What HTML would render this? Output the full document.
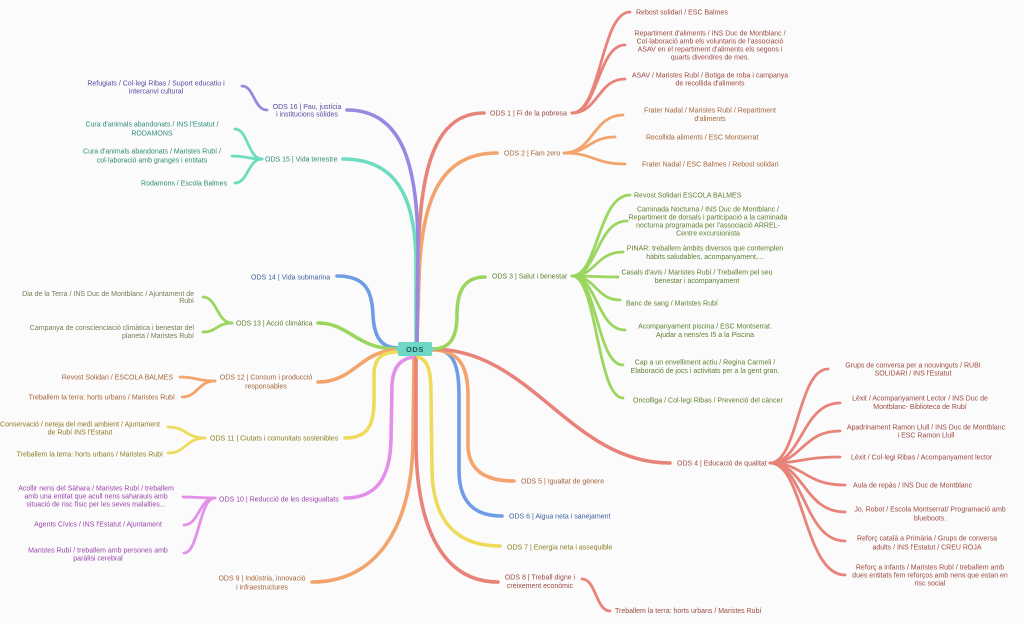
<!DOCTYPE html>
<html><head><meta charset="utf-8">
<style>
html,body{margin:0;padding:0;background:#fbfbfb;width:1024px;height:624px;overflow:hidden}
svg{display:block}
text{font-family:"Liberation Sans",Arial,sans-serif;font-size:7px}
.m{fill:none;stroke-width:3.6;stroke-linecap:round}
.l{fill:none;stroke-width:2.8;stroke-linecap:round}
</style></head>
<body>
<svg width="1024" height="624" viewBox="0 0 1024 624" xmlns="http://www.w3.org/2000/svg">
<rect width="1024" height="624" fill="#fbfbfb"/>

<!-- main branches -->
<g class="m">
<path stroke="#6ddcc0" d="M343 159 C395 159 415 195 416 260 L416 342"/>
<path stroke="#e8837a" d="M417 342 L418 270 C419 180 430 113 484 113"/>
<path stroke="#f2a46c" d="M417 342 L419 280 C421 200 440 153 497 153"/>
<path stroke="#9888e2" d="M347 110 C400 110 418 160 418 250 L417 342"/>
<path stroke="#6e9de6" d="M337 276 C365 276 372 290 373 315 C374 338 382 348 398 348"/>
<path stroke="#9bd65e" d="M318 323 C350 323 355 349 398 349"/>
<path stroke="#f2a46c" d="M318 382 C355 382 360 350 398 350"/>
<path stroke="#eedb5c" d="M345 438 C368 438 374 425 374 400 L374 375 C374 358 382 352 398 352"/>
<path stroke="#f2a46c" d="M312 582 C375 582 412 530 413 440 L414 357"/>
<path stroke="#e8837a" d="M416 357 L416 440 C416 540 450 582 498 582"/>
<path stroke="#e390ea" d="M345 498 C375 498 390 480 391 440 L392 385 C393 365 402 359 413 357"/>
<path stroke="#eedb5c" d="M418 357 C428 360 431 370 431 395 L432 470 C433 525 460 546 500 546"/>
<path stroke="#6e9de6" d="M432 349 C452 349 459 362 459 395 L459 470 C459 503 475 516 502 516"/>
<path stroke="#f2a46c" d="M432 350 C458 350 468 365 468 395 L468 445 C468 470 485 481 514 481"/>
<path stroke="#e8837a" d="M432 349 C532 349 570 463 670 463"/>
<path stroke="#9bd65e" d="M432 349 C450 349 457 338 457 315 C457 290 465 277 485 277"/>
</g>

<!-- leaf connectors -->
<g class="l">
<g stroke="#e8837a">
<path d="M572 113 C601 113 601 12 630 12"/>
<path d="M572 113 C598 113 598 45 625 45"/>
<path d="M572 113 C598 113 598 79 625 79"/>
</g>
<g stroke="#f2a46c">
<path d="M564 153 C593 153 593 115 623 115"/>
<path d="M564 153 C589 153 589 137 615 137"/>
<path d="M564 153 C594 153 594 164 625 164"/>
</g>
<g stroke="#9bd65e">
<path d="M572 276 C598 276 598 195 630 195"/>
<path d="M572 276 C597 276 597 221 627 221"/>
<path d="M572 276 C596 276 596 252 623 252"/>
<path d="M572 276 C595 276 595 277 618 277"/>
<path d="M572 276 C596 276 596 300 620 300"/>
<path d="M572 276 C597 276 597 330 625 330"/>
<path d="M572 276 C597 276 597 365 623 365"/>
<path d="M572 276 C597 276 597 398 623 398"/>
</g>
<g stroke="#e8837a">
<path d="M770 463 C798 463 798 369 828 369"/>
<path d="M770 463 C802 463 802 403 840 403"/>
<path d="M770 463 C802 463 802 431 840 431"/>
<path d="M770 463 C802 463 802 457 840 457"/>
<path d="M770 463 C804 463 804 485 845 485"/>
<path d="M770 463 C804 463 804 512 845 512"/>
<path d="M770 463 C804 463 804 541 845 541"/>
<path d="M770 463 C804 463 804 575 845 575"/>
<path d="M582 579 C596 579 596 611 610 611"/>
</g>
<path stroke="#9888e2" d="M267 110 C254 110 254 86 242 86"/>
<g stroke="#6ddcc0">
<path d="M262 159 C248 159 248 129 235 129"/>
<path d="M262 159 C247 159 247 156 232 156"/>
<path d="M262 159 C248 159 248 183 235 183"/>
</g>
<g stroke="#9bd65e">
<path d="M232 323 C217 323 217 297 203 297"/>
<path d="M232 323 C217 323 217 332 203 332"/>
</g>
<g stroke="#f2a46c">
<path d="M215 381 C197 381 197 377 180 377"/>
<path d="M215 381 C198 381 198 397 182 397"/>
</g>
<g stroke="#eedb5c">
<path d="M205 438 C186 438 186 427 168 427"/>
<path d="M205 438 C186 438 186 453 168 453"/>
</g>
<g stroke="#e390ea">
<path d="M215 498 C199 498 199 497 183 497"/>
<path d="M215 498 C199 498 199 525 184 525"/>
<path d="M215 498 C199 498 199 553 184 553"/>
</g>
</g>

<!-- center node -->
<rect x="398" y="342" width="34" height="14" rx="1.5" fill="#6fd8c5"/>
<polygon points="398,346.5 395,349 398,351.5" fill="#6fd8c5"/>
<polygon points="432,346.5 435,349 432,351.5" fill="#6fd8c5"/>
<text x="415" y="351.8" text-anchor="middle" style="font-size:7.5px;font-weight:bold;letter-spacing:0.6px" fill="#1d5c52">ODS</text>

<!-- ODS 1 -->
<g fill="#9c4a42">
<text x="490" y="115.5">ODS 1 | Fi de la pobresa</text>
<text x="636" y="14.5">Rebost solidari / ESC Balmes</text>
<g text-anchor="middle">
<text x="710" y="35.5">Repartiment d'aliments / INS Duc de Montblanc /</text>
<text x="710" y="43.5">Col·laboració amb els voluntaris de l'associació</text>
<text x="710" y="51.5">ASAV en el repartiment d'aliments els segons i</text>
<text x="710" y="59.5">quarts divendres de mes.</text>
<text x="710" y="77.5">ASAV / Maristes Rubí / Botiga de roba i campanya</text>
<text x="710" y="85.5">de recollida d'aliments</text>
</g>
</g>

<!-- ODS 2 -->
<g fill="#a3643a">
<text x="504" y="155.5">ODS 2 | Fam zero</text>
<g text-anchor="middle">
<text x="710" y="112.5">Frater Nadal / Maristes Rubí / Repartiment</text>
<text x="710" y="121">d'aliments</text>
</g>
<text x="646" y="139.5">Recollida aliments / ESC Montserrat</text>
<text x="642" y="166.5">Frater Nadal / ESC Balmes / Rebost solidari</text>
</g>

<!-- ODS 3 -->
<g fill="#5f7f2f">
<text x="492" y="278.5">ODS 3 | Salut i benestar</text>
<text x="634" y="197.5">Revost Solidari ESCOLA BALMES</text>
<g text-anchor="middle">
<text x="708" y="211.5">Caminada Nocturna / INS Duc de Montblanc /</text>
<text x="708" y="219.5">Repartiment de dorsals i participació a la caminada</text>
<text x="708" y="227.5">nocturna programada per l'associació ARREL-</text>
<text x="708" y="235.5">Centre excursionista</text>
<text x="705" y="250.5">PINAR: treballem àmbits diversos que contemplen</text>
<text x="705" y="258.8">hàbits saludables, acompanyament,...</text>
<text x="697" y="274.5">Casals d'avis / Maristes Rubí / Treballem pel seu</text>
<text x="697" y="283">benestar i acompanyament</text>
<text x="705" y="328.5">Acompanyament piscina / ESC Montserrat.</text>
<text x="705" y="337">Ajudar a nens/es I5 a la Piscina</text>
<text x="705" y="364.5">Cap a un envelliment actiu / Regina Carmeli /</text>
<text x="705" y="373">Elaboració de jocs i activitats per a la gent gran.</text>
</g>
<text x="626" y="305.5">Banc de sang / Maristes Rubí</text>
<text x="633" y="402.5">Oncolliga / Col·legi Ribas / Prevenció del càncer</text>
</g>

<!-- ODS 4 -->
<g fill="#9c4a42">
<text x="677" y="465.5">ODS 4 | Educació de qualitat</text>
<g text-anchor="middle">
<text x="913" y="367.5">Grups de conversa per a nouvinguts / RUBI</text>
<text x="913" y="375.5">SOLIDARI / INS l'Estatut</text>
<text x="920" y="400.5">Lèxit / Acompanyament Lector / INS Duc de</text>
<text x="920" y="409">Montblanc- Biblioteca de Rubí</text>
<text x="926" y="429.5">Apadrinament Ramon Llull / INS Duc de Montblanc</text>
<text x="926" y="437.5">i ESC Ramon Llull</text>
<text x="930" y="511.5">Jo, Robot / Escola Montserrat/ Programació amb</text>
<text x="930" y="520.5">blueboots.</text>
<text x="927" y="540.5">Reforç català a Primària / Grups de conversa</text>
<text x="927" y="549.5">adults / INS l'Estatut / CREU ROJA</text>
<text x="930" y="569.5">Reforç a infants / Maristes Rubí / treballem amb</text>
<text x="930" y="577.5">dues entitats fem reforços amb nens que estan en</text>
<text x="930" y="585.5">risc social</text>
</g>
<text x="851" y="459.5">Lèxit / Col·legi Ribas / Acompanyament lector</text>
<text x="853" y="487.5">Aula de repàs / INS Duc de Montblanc</text>
</g>

<!-- ODS 5-8 -->
<text x="521" y="483.5" fill="#a3643a">ODS 5 | Igualtat de gènere</text>
<text x="509" y="518.5" fill="#3e5f9e">ODS 6 | Aigua neta i sanejament</text>
<text x="507" y="549.5" fill="#8c7c22">ODS 7 | Energia neta i assequible</text>
<g fill="#9c4a42">
<g text-anchor="middle">
<text x="540" y="579.5">ODS 8 | Treball digne i</text>
<text x="540" y="588">creixement econòmic</text>
</g>
<text x="615" y="613">Treballem la terra: horts urbans / Maristes Rubí</text>
</g>

<!-- ODS 9 -->
<g fill="#a3643a" text-anchor="middle">
<text x="262" y="580.5">ODS 9 | Indústria, innovació</text>
<text x="262" y="589.5">i infraestructures</text>
</g>

<!-- ODS 10 -->
<g fill="#9a44aa">
<text x="219" y="501.5">ODS 10 | Reducció de les desigualtats</text>
<g text-anchor="middle">
<text x="96" y="490.5">Acollir nens del Sàhara / Maristes Rubí / treballem</text>
<text x="96" y="498.5">amb una entitat que acull nens saharauis amb</text>
<text x="96" y="506.5">situació de risc físic per les seves malalties...</text>
<text x="98" y="526.5">Agents Cívics / INS l'Estatut / Ajuntament</text>
<text x="98" y="552.5">Maristes Rubí / treballem amb persones amb</text>
<text x="98" y="560.5">paràlisi cerebral</text>
</g>
</g>

<!-- ODS 11 -->
<g fill="#8c7c22">
<text x="210" y="440.5">ODS 11 | Ciutats i comunitats sostenibles</text>
<g text-anchor="middle">
<text x="80" y="426.5">Conservació / neteja del medi ambient / Ajuntament</text>
<text x="80" y="434.5">de Rubí INS l'Estatut</text>
</g>
<text x="163" y="456.5" text-anchor="end">Treballem la terra: horts urbans / Maristes Rubí</text>
</g>

<!-- ODS 12 -->
<g fill="#a3643a">
<g text-anchor="middle">
<text x="266" y="379.5">ODS 12 | Consum i producció</text>
<text x="266" y="388.5">responsables</text>
</g>
<g text-anchor="end">
<text x="173" y="379.5">Revost Solidari / ESCOLA BALMES</text>
<text x="175" y="399.5">Treballem la terra: horts urbans / Maristes Rubí</text>
</g>
</g>

<!-- ODS 13 -->
<g fill="#5f7f2f">
<text x="236" y="325.5">ODS 13 | Acció climàtica</text>
<g text-anchor="end" style="font-size:5.8px" fill="#6f7f55">
<text x="194" y="296">Dia de la Terra / INS Duc de Montblanc / Ajuntament de</text>
<text x="194" y="303">Rubí</text>
<text x="194" y="330">Campanya de conscienciació climàtica i benestar del</text>
<text x="194" y="338">planeta / Maristes Rubí</text>
</g>
</g>

<!-- ODS 14 -->
<text x="251" y="279.5" fill="#3e5f9e">ODS 14 | Vida submarina</text>

<!-- ODS 15 -->
<g fill="#2f8a78">
<text x="265" y="161.5">ODS 15 | Vida terrestre</text>
<g text-anchor="middle">
<text x="152" y="126.5">Cura d'animals abandonats / INS l'Estatut /</text>
<text x="152" y="135.5">RODAMONS</text>
<text x="152" y="153.5">Cura d'animals abandonats / Maristes Rubí /</text>
<text x="152" y="162.5">col·laboració amb granges i entitats</text>
</g>
<text x="227" y="185.5" text-anchor="end">Rodamons / Escola Balmes</text>
</g>

<!-- ODS 16 -->
<g fill="#574aa0" text-anchor="middle">
<text x="307" y="109">ODS 16 | Pau, justícia</text>
<text x="307" y="116.5">i institucions sòlides</text>
<text x="156" y="85.5">Refugiats / Col·legi Ribas / Suport educatiu i</text>
<text x="156" y="93.5">intercanvi cultural</text>
</g>
</svg>
</body></html>
